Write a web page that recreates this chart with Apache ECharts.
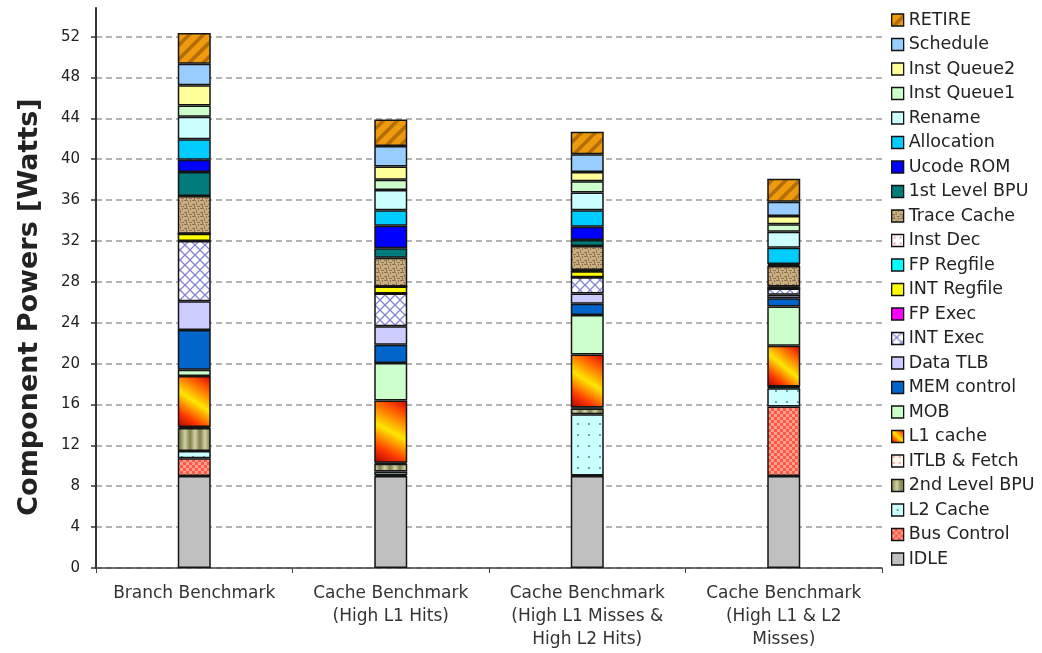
<!DOCTYPE html>
<html>
<head>
<meta charset="utf-8">
<script src="https://cdn.jsdelivr.net/npm/echarts@6/dist/echarts.min.js"></script>
<style>
  html, body { margin: 0; padding: 0; background: #fff; }
  #chart { width: 1042px; height: 653px; }
</style>
</head>
<body>
<div id="chart"></div>
<script>
// Benchmarks along the x axis
const categories = [
  'Branch Benchmark',
  'Cache Benchmark\n(High L1 Hits)',
  'Cache Benchmark\n(High L1 Misses &\nHigh L2 Hits)',
  'Cache Benchmark\n(High L1 & L2\nMisses)'
];

// Component power per benchmark, in watts (stacked bottom to top)
const IDLE        = [9.0, 9.0, 9.0, 9.0];
const busControl  = [1.75, 0.1, 0.05, 6.8];
const l2Cache     = [0.7, 0.35, 6.0, 1.8];
const bpu2        = [2.25, 0.75, 0.55, 0.1];
const itlbFetch   = [0.1, 0.1, 0.1, 0.05];
const l1Cache     = [5.0, 6.1, 5.2, 4.0];
const mob         = [0.6, 3.65, 3.85, 3.85];
const memControl  = [3.9, 1.8, 1.1, 0.8];
const dataTlb     = [2.8, 1.8, 1.0, 0.35];
const intExec     = [5.9, 3.2, 1.6, 0.6];
const fpExec      = [0, 0, 0, 0];
const intRegfile  = [0.7, 0.7, 0.6, 0.1];
const fpRegfile   = [0, 0, 0, 0];
const instDec     = [0, 0, 0.1, 0.1];
const traceCache  = [3.7, 2.8, 2.35, 2.0];
const bpu1        = [2.35, 0.95, 0.6, 0.1];
const ucodeRom    = [1.2, 2.2, 1.3, 0.1];
const allocation  = [2.0, 1.5, 1.6, 1.6];
const rename      = [2.2, 2.0, 1.75, 1.55];
const instQueue1  = [1.1, 1.0, 1.1, 0.75];
const instQueue2  = [2.0, 1.3, 0.9, 0.8];
const schedule    = [2.1, 2.0, 1.75, 1.4];
const RETIRE      = [3.0, 2.6, 2.2, 2.25];

// y-axis ticks
const yMin = 0, yMax = 54.8, yStep = 4;

// Canvas fill patterns for the textured components
function pattern(w, h, paint) {
  const c = document.createElement('canvas');
  c.width = w; c.height = h;
  paint(c.getContext('2d'), w, h);
  return { image: c, repeat: 'repeat' };
}

const fills = {
  retire: pattern(14, 14, (g) => {
    g.fillStyle = '#EE9A0C'; g.fillRect(0, 0, 14, 14);
    g.strokeStyle = 'rgba(140,80,0,0.6)'; g.lineWidth = 3.5;
    [[-7, 7, 7, -7], [0, 14, 14, 0], [7, 21, 21, 7]].forEach(([a, b, c, d]) => {
      g.beginPath(); g.moveTo(a, b); g.lineTo(c, d); g.stroke();
    });
  }),
  trace: pattern(8, 8, (g) => {
    g.fillStyle = '#C9AE82'; g.fillRect(0, 0, 8, 8);
    g.fillStyle = '#8E7150';
    [[0, 0, 4, 1], [4, 2, 1, 3], [0, 4, 3, 1], [5, 6, 3, 1], [2, 5, 1, 3], [6, 0, 1, 2]].forEach(r => g.fillRect(...r));
  }),
  intExec: pattern(10, 10, (g) => {
    g.fillStyle = '#FFFFFF'; g.fillRect(0, 0, 10, 10);
    g.strokeStyle = '#8484D4'; g.lineWidth = 1.3;
    g.beginPath(); g.moveTo(0, 0); g.lineTo(10, 10); g.moveTo(10, 0); g.lineTo(0, 10); g.stroke();
  }),
  bus: pattern(6, 6, (g) => {
    g.fillStyle = '#FF5848'; g.fillRect(0, 0, 6, 6);
    g.fillStyle = '#FFA08C'; g.fillRect(0, 0, 3, 3); g.fillRect(3, 3, 3, 3);
  }),
  l2: pattern(11, 11, (g) => {
    g.fillStyle = '#CCFFFF'; g.fillRect(0, 0, 11, 11);
    g.fillStyle = '#62A8A8'; g.fillRect(5, 5, 2, 2);
  }),
  bpu2: pattern(10, 2, (g) => {
    const gr = g.createLinearGradient(0, 0, 10, 0);
    gr.addColorStop(0, '#7E7E50'); gr.addColorStop(0.5, '#D2D2A2'); gr.addColorStop(1, '#7E7E50');
    g.fillStyle = gr; g.fillRect(0, 0, 10, 2);
  }),
  instDec: pattern(6, 6, (g) => {
    g.fillStyle = '#FFFFFF'; g.fillRect(0, 0, 6, 6);
    g.fillStyle = '#E8A0D0'; g.fillRect(2, 2, 2, 2);
  }),
  itlb: pattern(6, 6, (g) => {
    g.fillStyle = '#FFF4EE'; g.fillRect(0, 0, 6, 6);
    g.fillStyle = '#F4B0A0'; g.fillRect(1, 1, 2, 2);
  }),
  l1: new echarts.graphic.LinearGradient(0, 1, 1, 0, [
    { offset: 0, color: '#B00000' },
    { offset: 0.22, color: '#FF3A00' },
    { offset: 0.5, color: '#FFE600' },
    { offset: 0.78, color: '#FF6000' },
    { offset: 1, color: '#D80000' }
  ])
};

// name, values, fill — bottom of the stack first
const components = [
  ['IDLE', IDLE, '#C0C0C0'],
  ['Bus Control', busControl, fills.bus],
  ['L2 Cache', l2Cache, fills.l2],
  ['2nd Level BPU', bpu2, fills.bpu2],
  ['ITLB & Fetch', itlbFetch, fills.itlb],
  ['L1 cache', l1Cache, fills.l1],
  ['MOB', mob, '#CCFFCC'],
  ['MEM control', memControl, '#0066CC'],
  ['Data TLB', dataTlb, '#CCCCFF'],
  ['INT Exec', intExec, fills.intExec],
  ['FP Exec', fpExec, '#FF00FF'],
  ['INT Regfile', intRegfile, '#FFFF00'],
  ['FP Regfile', fpRegfile, '#00FFFF'],
  ['Inst Dec', instDec, fills.instDec],
  ['Trace Cache', traceCache, fills.trace],
  ['1st Level BPU', bpu1, '#007C7C'],
  ['Ucode ROM', ucodeRom, '#0000FF'],
  ['Allocation', allocation, '#00CCFF'],
  ['Rename', rename, '#CCFFFF'],
  ['Inst Queue1', instQueue1, '#CCFFCC'],
  ['Inst Queue2', instQueue2, '#FFFF99'],
  ['Schedule', schedule, '#99CCFF'],
  ['RETIRE', RETIRE, fills.retire]
];

const font = 'DejaVu Sans';

const series = components.map(([name, values, fill]) => ({
  name,
  type: 'bar',
  stack: 'power',
  barWidth: 33,
  data: values,
  itemStyle: { color: fill, borderColor: '#151515', borderWidth: 1.5 },
  emphasis: { disabled: true }
}));

const chart = echarts.init(document.getElementById('chart'), null, { renderer: 'canvas' });
chart.setOption({
  animation: false,
  backgroundColor: '#fff',
  grid: { left: 96, right: 160, top: 8, bottom: 85 },
  legend: {
    orient: 'vertical',
    left: 891,
    top: 10,
    padding: 0,
    icon: 'rect',
    itemWidth: 12,
    itemHeight: 12,
    itemGap: 4.5,
    itemStyle: { borderColor: '#111', borderWidth: 1.3 },
    textStyle: { fontFamily: font, fontSize: 17.5, color: '#222', lineHeight: 20 },
    data: components.map(c => c[0]).reverse()
  },
  xAxis: {
    type: 'category',
    data: categories,
    axisLine: { lineStyle: { color: '#444', width: 1.5 } },
    axisTick: { show: true, length: 5, lineStyle: { color: '#444' } },
    axisLabel: {
      interval: 0, margin: 14, fontFamily: font, fontSize: 17,
      color: '#333', lineHeight: 23, align: 'center'
    }
  },
  yAxis: {
    type: 'value',
    min: yMin,
    max: yMax,
    interval: yStep,
    axisLine: { show: true, lineStyle: { color: '#333', width: 2 } },
    axisTick: { show: true, length: 5, lineStyle: { color: '#333', width: 1.5 } },
    axisLabel: {
      margin: 16, fontFamily: font, fontSize: 15, color: '#222',
      showMaxLabel: false,
      formatter: v => (v % yStep === 0 ? String(v) : '')
    },
    splitLine: {
      show: true, showMaxLine: false,
      lineStyle: { color: '#9A9A9A', width: 1.5, type: [6, 4] }
    }
  },
  graphic: [{
    type: 'text',
    x: 30,
    y: 307,
    rotation: Math.PI / 2,
    style: {
      text: 'Component Powers [Watts]',
      font: 'bold 27px "DejaVu Sans"',
      fill: '#222',
      align: 'center',
      verticalAlign: 'middle'
    }
  }],
  series
});
</script>
</body>
</html>
